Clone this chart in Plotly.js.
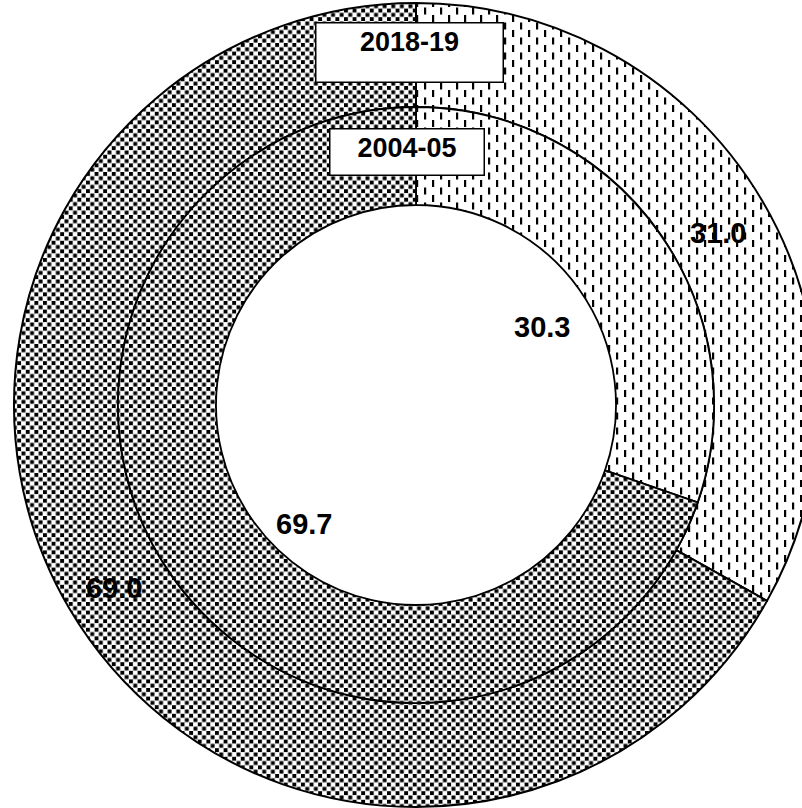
<!DOCTYPE html>
<html><head><meta charset="utf-8">
<script src="https://cdn.plot.ly/plotly-3.0.1.min.js"></script>
<style>
html,body{margin:0;padding:0;background:#fff;overflow:hidden}
#wrap{width:802px;height:808px;overflow:hidden;position:relative}
#chart{width:832px;height:808px}
</style></head>
<body><div id="wrap"><div id="chart"></div></div>
<script>
// ---- data ----
const categories = ['Share A', 'Share B'];
const ringYears = ['2018-19', '2004-05'];
const outerShares = [33.1, 66.9];      // slice sizes as drawn (2018-19)
const outerLabels = ['31.0', '69.0'];  // printed labels (2018-19)
const innerShares = [30.3, 69.7];      // slice sizes as drawn (2004-05)
const innerLabels = ['30.3', '69.7'];  // printed labels (2004-05)

// ---- layout constants ----
const W = 832, H = 808, CX = 416, CY = 405;
const R_OUT = 402, R_MID = 298, R_HOLE = 200;
const FONT = 'Liberation Sans, Arial, Helvetica, sans-serif';

function dom(r){ return {x:[(CX-r)/W,(CX+r)/W], y:[1-(CY+r)/H, 1-(CY-r)/H]}; }
const patt = {shape:['|','.'], fgcolor:'#000', bgcolor:'#fff', size:8, solidity:0.3};

const data = [
  {type:'pie', values: outerShares, labels: categories, sort:false, direction:'clockwise', rotation:0,
   hole: R_MID/R_OUT, domain: dom(R_OUT), textinfo:'none', hoverinfo:'skip', showlegend:false,
   marker:{colors:['#fff','#fff'], line:{color:'#000', width:2}, pattern: patt}},
  {type:'pie', values: innerShares, labels: categories, sort:false, direction:'clockwise', rotation:0,
   hole: R_HOLE/R_MID, domain: dom(R_MID), textinfo:'none', hoverinfo:'skip', showlegend:false,
   marker:{colors:['#fff','#fff'], line:{color:'#000', width:1.8}, pattern: patt}}
];

function labelAnn(values, texts, r, shifts){
  const tot = values.reduce((a,b)=>a+b,0);
  let cum = 0;
  return values.map((v,i)=>{
    const mid = (cum + v/2)/tot*2*Math.PI; cum += v;
    const px = CX + r*Math.sin(mid), py = CY - r*Math.cos(mid);
    return {xref:'paper', yref:'paper', x: px/W, y: 1-py/H, text: texts[i], showarrow:false,
      xanchor:'center', yanchor:'middle', xshift: shifts[i][0], yshift: shifts[i][1],
      font:{family:FONT, size:29, color:'#000', weight:'bold'}};
  });
}

const titleBox = (txt, cxp, topp, w, h) => ({xref:'paper', yref:'paper', x: cxp/W, y: 1-topp/H,
  xanchor:'center', yanchor:'top', text: txt, showarrow:false, bgcolor:'#fff', bordercolor:'#000',
  borderwidth:1.5, borderpad:3, width:w, height:h, valign:'top', align:'center',
  font:{family:FONT, size:27, color:'#000', weight:'bold'}});

const annotations = [
  ...labelAnn(outerShares, outerLabels, (R_OUT+R_MID)/2, [[0,-5],[0,-6]]),
  ...labelAnn(innerShares, innerLabels, 155, [[0,-12],[14,-29]]),
  titleBox(ringYears[0], 409.5, 22, 180, 52),
  titleBox(ringYears[1], 407, 128, 147, 39)
];

const layout = {width: W, height: H, margin:{l:0,r:0,t:0,b:0}, paper_bgcolor:'#fff', plot_bgcolor:'#fff',
  showlegend:false, annotations};

function el(tag, attrs){ const e = document.createElementNS('http://www.w3.org/2000/svg', tag);
  for (const k in attrs) e.setAttribute(k, attrs[k]); return e; }

Plotly.newPlot('chart', data, layout, {staticPlot:true, displayModeBar:false}).then(gd => {
  gd.querySelectorAll('pattern').forEach(p => {
    const dots = p.querySelector('circle') !== null;
    while (p.firstChild) p.removeChild(p.firstChild);
    if (dots) {
      const t = 8.6, s = 3.9;
      p.setAttribute('width', t); p.setAttribute('height', t);
      p.appendChild(el('rect',{width:t,height:t,fill:'#fff'}));
      p.appendChild(el('rect',{x:0,y:0,width:s,height:s,fill:'#000'}));
      p.appendChild(el('rect',{x:t/2,y:t/2,width:s,height:s,fill:'#000'}));
    } else {
      p.setAttribute('width','16'); p.setAttribute('height','15');
      p.appendChild(el('rect',{width:16,height:15,fill:'#fff'}));
      p.appendChild(el('rect',{x:0,y:0,width:2.2,height:7,fill:'#000'}));
      p.appendChild(el('rect',{x:8,y:7.5,width:2.2,height:7,fill:'#000'}));
    }
  });
});
</script>
</body></html>
